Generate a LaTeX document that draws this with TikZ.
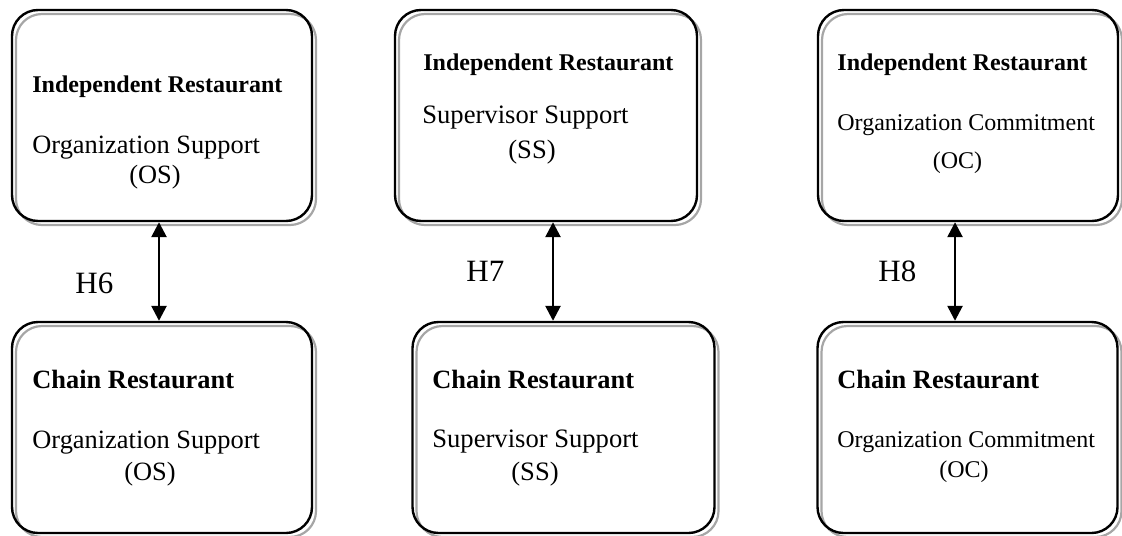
\documentclass[tikz,border=0pt]{standalone}
\usepackage{fontspec}
\setmainfont{Liberation Serif}
\usetikzlibrary{arrows.meta}

\begin{document}
\begin{tikzpicture}[x=0.5pt, y=-0.5pt,
  panel/.style={draw, line width=1.2pt, rounded corners=13pt, minimum width=150pt,
    minimum height=105.5pt, inner sep=0pt,
    preaction={draw=gray!70, line width=1.1pt, transform canvas={shift={(2pt,-2pt)}}}},
  txt/.style={anchor=base west, inner sep=0pt},
  abbr/.style={anchor=base, inner sep=0pt},
  link/.style={{Triangle[length=7.5pt,width=7.5pt]}-{Triangle[length=7.5pt,width=7.5pt]}, line width=1.3pt}]

\useasboundingbox (0,0) rectangle (1122,535);

% boxes
\node[panel] (ind1) at (162,115.5) {};
\node[panel] (chain1) at (162,427.5) {};
\node[panel, minimum width=151pt] (ind2) at (546,115.5) {};
\node[panel, minimum width=151pt] (chain2) at (563.5,427.5) {};
\node[panel] (ind3) at (968,115.5) {};
\node[panel] (chain3) at (967.5,427.5) {};

% texts
\node[txt, font=\fontsize{12}{14}\selectfont\bfseries] (t1a) at (32,92) {Independent Restaurant};
\node[txt, font=\fontsize{13.2}{15}\selectfont] (t1b) at (32,153) {Organization Support};
\node[abbr, font=\fontsize{13.2}{15}\selectfont] (t1c) at (155,183) {(OS)};

\node[txt, font=\fontsize{13.2}{15}\selectfont\bfseries] (t2a) at (32,388) {Chain Restaurant};
\node[txt, font=\fontsize{13.2}{15}\selectfont] (t2b) at (32,448) {Organization Support};
\node[abbr, font=\fontsize{13.2}{15}\selectfont] (t2c) at (150,480) {(OS)};

\node[txt, font=\fontsize{12}{14}\selectfont\bfseries] (t3a) at (423,70) {Independent Restaurant};
\node[txt, font=\fontsize{13.3}{15}\selectfont] (t3b) at (422,123) {Supervisor Support};
\node[abbr, font=\fontsize{13.3}{15}\selectfont] (t3c) at (532,158) {(SS)};

\node[txt, font=\fontsize{13.2}{15}\selectfont\bfseries] (t4a) at (432,388) {Chain Restaurant};
\node[txt, font=\fontsize{13.3}{15}\selectfont] (t4b) at (432,447) {Supervisor Support};
\node[abbr, font=\fontsize{13.3}{15}\selectfont] (t4c) at (535,480) {(SS)};

\node[txt, font=\fontsize{12}{14}\selectfont\bfseries] (t5a) at (837,70) {Independent Restaurant};
\node[txt, font=\fontsize{12}{14}\selectfont] (t5b) at (837,130) {Organization Commitment};
\node[abbr, font=\fontsize{12}{14}\selectfont] (t5c) at (957.5,168) {(OC)};

\node[txt, font=\fontsize{13.2}{15}\selectfont\bfseries] (t6a) at (837,388) {Chain Restaurant};
\node[txt, font=\fontsize{12}{14}\selectfont] (t6b) at (837,447) {Organization Commitment};
\node[abbr, font=\fontsize{12}{14}\selectfont] (t6c) at (964,477) {(OC)};

% hypotheses
\coordinate (a1) at (159,0);
\coordinate (a2) at (553,0);
\coordinate (a3) at (955,0);

\draw[link] (ind1.south -| a1) -- (chain1.north -| a1);
\draw[link] (ind2.south -| a2) -- (chain2.north -| a2);
\draw[link] (ind3.south -| a3) -- (chain3.north -| a3);

\node[txt, font=\fontsize{15.5}{18}\selectfont] (h6) at (75,293) {H6};
\node[txt, font=\fontsize{15.5}{18}\selectfont] (h7) at (466,281) {H7};
\node[txt, font=\fontsize{15.5}{18}\selectfont] (h8) at (878,281) {H8};

\end{tikzpicture}
\end{document}
